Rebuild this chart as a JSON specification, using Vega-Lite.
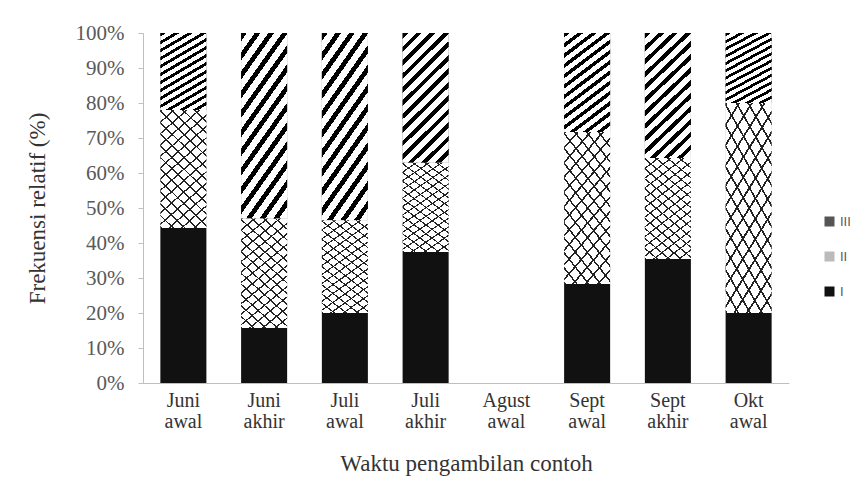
{
  "$schema": "https://vega.github.io/schema/vega-lite/v6.json",
  "width": 646,
  "height": 350,
  "autosize": "none",
  "padding": {"left": 143, "top": 33, "right": 76, "bottom": 113},
  "background": "white",
  "config": {"view": {"stroke": null}, "font": "Liberation Serif"},
  "data": {
    "values": [
      {"waktu": "Juni awal", "kelas": "I", "persen": 44.3},
      {"waktu": "Juni awal", "kelas": "II", "persen": 33.7},
      {"waktu": "Juni awal", "kelas": "III", "persen": 22.0},
      {"waktu": "Juni akhir", "kelas": "I", "persen": 15.7},
      {"waktu": "Juni akhir", "kelas": "II", "persen": 31.3},
      {"waktu": "Juni akhir", "kelas": "III", "persen": 53.0},
      {"waktu": "Juli awal", "kelas": "I", "persen": 20.0},
      {"waktu": "Juli awal", "kelas": "II", "persen": 26.5},
      {"waktu": "Juli awal", "kelas": "III", "persen": 53.5},
      {"waktu": "Juli akhir", "kelas": "I", "persen": 37.4},
      {"waktu": "Juli akhir", "kelas": "II", "persen": 25.5},
      {"waktu": "Juli akhir", "kelas": "III", "persen": 37.1},
      {"waktu": "Sept awal", "kelas": "I", "persen": 28.3},
      {"waktu": "Sept awal", "kelas": "II", "persen": 43.4},
      {"waktu": "Sept awal", "kelas": "III", "persen": 28.3},
      {"waktu": "Sept akhir", "kelas": "I", "persen": 35.4},
      {"waktu": "Sept akhir", "kelas": "II", "persen": 28.9},
      {"waktu": "Sept akhir", "kelas": "III", "persen": 35.7},
      {"waktu": "Okt awal", "kelas": "I", "persen": 20.0},
      {"waktu": "Okt awal", "kelas": "II", "persen": 60.0},
      {"waktu": "Okt awal", "kelas": "III", "persen": 20.0}
    ]
  },
  "transform": [
    {"stack": "persen", "groupby": ["waktu"], "sort": [{"field": "kelas", "order": "ascending"}], "as": ["y0", "y1"], "offset": "normalize"}
  ],
  "encoding": {
    "x": {
      "field": "waktu",
      "type": "nominal",
      "sort": null,
      "title": "Waktu pengambilan contoh",
      "scale": {
        "domain": ["Juni awal", "Juni akhir", "Juli awal", "Juli akhir", "Agust awal", "Sept awal", "Sept akhir", "Okt awal"],
        "paddingInner": 0.43,
        "paddingOuter": 0.215
      },
      "axis": {
        "labelExpr": "split(datum.label, ' ')",
        "labelAngle": 0,
        "ticks": false,
        "domainColor": "#bfbfbf",
        "labelFont": "Liberation Serif",
        "labelFontSize": 20,
        "labelColor": "#333333",
        "labelPadding": 7,
        "labelLineHeight": 21,
        "titleFont": "Liberation Serif",
        "titleFontSize": 23,
        "titleFontWeight": "normal",
        "titleColor": "#333333",
        "titlePadding": 21
      }
    },
    "y": {
      "field": "y0",
      "type": "quantitative",
      "title": "Frekuensi relatif (%)",
      "scale": {"domain": [0, 1], "nice": false},
      "axis": {
        "format": ".0%",
        "values": [0, 0.1, 0.2, 0.3, 0.4, 0.5, 0.6, 0.7, 0.8, 0.9, 1],
        "grid": false,
        "domainColor": "#bfbfbf",
        "tickColor": "#bfbfbf",
        "tickSize": 5,
        "labelFont": "Liberation Serif",
        "labelFontSize": 21,
        "labelColor": "#595959",
        "labelPadding": 14,
        "titleFont": "Liberation Serif",
        "titleFontSize": 23,
        "titleFontWeight": "normal",
        "titleColor": "#333333",
        "titlePadding": 26
      }
    },
    "y2": {"field": "y1"}
  },
  "layer": [
    {
      "mark": {"type": "bar", "strokeWidth": 0},
      "encoding": {
        "fill": {
          "field": "kelas",
          "type": "nominal",
          "scale": {"domain": ["III", "II", "I"], "range": ["#555555", "#bbbbbb", "#111111"]},
          "legend": {
            "orient": "none",
            "legendX": 680,
            "legendY": 182,
            "title": null,
            "symbolType": "square",
            "symbolSize": 100,
            "symbolStrokeWidth": 0,
            "labelFont": "Liberation Sans",
            "labelFontSize": 13,
            "labelColor": "#595959",
            "rowPadding": 21,
            "padding": 0
          }
        }
      }
    },
    {
      "transform": [{"filter": "datum.kelas === 'III'"}],
      "mark": {
        "type": "bar",
        "strokeWidth": 0,
        "fill": {"gradient": "linear", "x1": 0, "y1": 0, "x2": 0.42, "y2": 1.2, "stops": [
          {"offset": 0, "color": "#000000"}, {"offset": 0.0323, "color": "#000000"}, {"offset": 0.0323, "color": "#ffffff"}, {"offset": 0.0769, "color": "#ffffff"},
          {"offset": 0.0769, "color": "#000000"}, {"offset": 0.1092, "color": "#000000"}, {"offset": 0.1092, "color": "#ffffff"}, {"offset": 0.1538, "color": "#ffffff"},
          {"offset": 0.1538, "color": "#000000"}, {"offset": 0.1862, "color": "#000000"}, {"offset": 0.1862, "color": "#ffffff"}, {"offset": 0.2308, "color": "#ffffff"},
          {"offset": 0.2308, "color": "#000000"}, {"offset": 0.2631, "color": "#000000"}, {"offset": 0.2631, "color": "#ffffff"}, {"offset": 0.3077, "color": "#ffffff"},
          {"offset": 0.3077, "color": "#000000"}, {"offset": 0.34, "color": "#000000"}, {"offset": 0.34, "color": "#ffffff"}, {"offset": 0.3846, "color": "#ffffff"},
          {"offset": 0.3846, "color": "#000000"}, {"offset": 0.4169, "color": "#000000"}, {"offset": 0.4169, "color": "#ffffff"}, {"offset": 0.4615, "color": "#ffffff"},
          {"offset": 0.4615, "color": "#000000"}, {"offset": 0.4938, "color": "#000000"}, {"offset": 0.4938, "color": "#ffffff"}, {"offset": 0.5385, "color": "#ffffff"},
          {"offset": 0.5385, "color": "#000000"}, {"offset": 0.5708, "color": "#000000"}, {"offset": 0.5708, "color": "#ffffff"}, {"offset": 0.6154, "color": "#ffffff"},
          {"offset": 0.6154, "color": "#000000"}, {"offset": 0.6477, "color": "#000000"}, {"offset": 0.6477, "color": "#ffffff"}, {"offset": 0.6923, "color": "#ffffff"},
          {"offset": 0.6923, "color": "#000000"}, {"offset": 0.7246, "color": "#000000"}, {"offset": 0.7246, "color": "#ffffff"}, {"offset": 0.7692, "color": "#ffffff"},
          {"offset": 0.7692, "color": "#000000"}, {"offset": 0.8015, "color": "#000000"}, {"offset": 0.8015, "color": "#ffffff"}, {"offset": 0.8462, "color": "#ffffff"},
          {"offset": 0.8462, "color": "#000000"}, {"offset": 0.8785, "color": "#000000"}, {"offset": 0.8785, "color": "#ffffff"}, {"offset": 0.9231, "color": "#ffffff"},
          {"offset": 0.9231, "color": "#000000"}, {"offset": 0.9554, "color": "#000000"}, {"offset": 0.9554, "color": "#ffffff"}, {"offset": 1, "color": "#ffffff"}
        ]}
      }
    },
    {
      "transform": [{"filter": "datum.kelas === 'II'"}],
      "mark": {
        "type": "bar",
        "strokeWidth": 0,
        "fill": {"gradient": "linear", "x1": 0, "y1": 1, "x2": 0.46, "y2": -0.2, "stops": [
          {"offset": 0, "color": "#222222"}, {"offset": 0.0114, "color": "#222222"}, {"offset": 0.0114, "color": "#ffffff"}, {"offset": 0.0714, "color": "#ffffff"},
          {"offset": 0.0714, "color": "#222222"}, {"offset": 0.0828, "color": "#222222"}, {"offset": 0.0828, "color": "#ffffff"}, {"offset": 0.1429, "color": "#ffffff"},
          {"offset": 0.1429, "color": "#222222"}, {"offset": 0.1543, "color": "#222222"}, {"offset": 0.1543, "color": "#ffffff"}, {"offset": 0.2143, "color": "#ffffff"},
          {"offset": 0.2143, "color": "#222222"}, {"offset": 0.2257, "color": "#222222"}, {"offset": 0.2257, "color": "#ffffff"}, {"offset": 0.2857, "color": "#ffffff"},
          {"offset": 0.2857, "color": "#222222"}, {"offset": 0.2971, "color": "#222222"}, {"offset": 0.2971, "color": "#ffffff"}, {"offset": 0.3571, "color": "#ffffff"},
          {"offset": 0.3571, "color": "#222222"}, {"offset": 0.3685, "color": "#222222"}, {"offset": 0.3685, "color": "#ffffff"}, {"offset": 0.4286, "color": "#ffffff"},
          {"offset": 0.4286, "color": "#222222"}, {"offset": 0.44, "color": "#222222"}, {"offset": 0.44, "color": "#ffffff"}, {"offset": 0.5, "color": "#ffffff"},
          {"offset": 0.5, "color": "#222222"}, {"offset": 0.5114, "color": "#222222"}, {"offset": 0.5114, "color": "#ffffff"}, {"offset": 0.5714, "color": "#ffffff"},
          {"offset": 0.5714, "color": "#222222"}, {"offset": 0.5828, "color": "#222222"}, {"offset": 0.5828, "color": "#ffffff"}, {"offset": 0.6429, "color": "#ffffff"},
          {"offset": 0.6429, "color": "#222222"}, {"offset": 0.6543, "color": "#222222"}, {"offset": 0.6543, "color": "#ffffff"}, {"offset": 0.7143, "color": "#ffffff"},
          {"offset": 0.7143, "color": "#222222"}, {"offset": 0.7257, "color": "#222222"}, {"offset": 0.7257, "color": "#ffffff"}, {"offset": 0.7857, "color": "#ffffff"},
          {"offset": 0.7857, "color": "#222222"}, {"offset": 0.7971, "color": "#222222"}, {"offset": 0.7971, "color": "#ffffff"}, {"offset": 0.8571, "color": "#ffffff"},
          {"offset": 0.8571, "color": "#222222"}, {"offset": 0.8685, "color": "#222222"}, {"offset": 0.8685, "color": "#ffffff"}, {"offset": 0.9286, "color": "#ffffff"},
          {"offset": 0.9286, "color": "#222222"}, {"offset": 0.94, "color": "#222222"}, {"offset": 0.94, "color": "#ffffff"}, {"offset": 1, "color": "#ffffff"}
        ]}
      }
    },
    {
      "transform": [{"filter": "datum.kelas === 'II'"}],
      "mark": {
        "type": "bar",
        "strokeWidth": 0,
        "fill": {"gradient": "linear", "x1": 0, "y1": 0, "x2": 0.42, "y2": 1.2, "stops": [
          {"offset": 0, "color": "rgba(34,34,34,1)"}, {"offset": 0.0114, "color": "rgba(34,34,34,1)"}, {"offset": 0.0114, "color": "rgba(255,255,255,0)"}, {"offset": 0.0714, "color": "rgba(255,255,255,0)"},
          {"offset": 0.0714, "color": "rgba(34,34,34,1)"}, {"offset": 0.0828, "color": "rgba(34,34,34,1)"}, {"offset": 0.0828, "color": "rgba(255,255,255,0)"}, {"offset": 0.1429, "color": "rgba(255,255,255,0)"},
          {"offset": 0.1429, "color": "rgba(34,34,34,1)"}, {"offset": 0.1543, "color": "rgba(34,34,34,1)"}, {"offset": 0.1543, "color": "rgba(255,255,255,0)"}, {"offset": 0.2143, "color": "rgba(255,255,255,0)"},
          {"offset": 0.2143, "color": "rgba(34,34,34,1)"}, {"offset": 0.2257, "color": "rgba(34,34,34,1)"}, {"offset": 0.2257, "color": "rgba(255,255,255,0)"}, {"offset": 0.2857, "color": "rgba(255,255,255,0)"},
          {"offset": 0.2857, "color": "rgba(34,34,34,1)"}, {"offset": 0.2971, "color": "rgba(34,34,34,1)"}, {"offset": 0.2971, "color": "rgba(255,255,255,0)"}, {"offset": 0.3571, "color": "rgba(255,255,255,0)"},
          {"offset": 0.3571, "color": "rgba(34,34,34,1)"}, {"offset": 0.3685, "color": "rgba(34,34,34,1)"}, {"offset": 0.3685, "color": "rgba(255,255,255,0)"}, {"offset": 0.4286, "color": "rgba(255,255,255,0)"},
          {"offset": 0.4286, "color": "rgba(34,34,34,1)"}, {"offset": 0.44, "color": "rgba(34,34,34,1)"}, {"offset": 0.44, "color": "rgba(255,255,255,0)"}, {"offset": 0.5, "color": "rgba(255,255,255,0)"},
          {"offset": 0.5, "color": "rgba(34,34,34,1)"}, {"offset": 0.5114, "color": "rgba(34,34,34,1)"}, {"offset": 0.5114, "color": "rgba(255,255,255,0)"}, {"offset": 0.5714, "color": "rgba(255,255,255,0)"},
          {"offset": 0.5714, "color": "rgba(34,34,34,1)"}, {"offset": 0.5828, "color": "rgba(34,34,34,1)"}, {"offset": 0.5828, "color": "rgba(255,255,255,0)"}, {"offset": 0.6429, "color": "rgba(255,255,255,0)"},
          {"offset": 0.6429, "color": "rgba(34,34,34,1)"}, {"offset": 0.6543, "color": "rgba(34,34,34,1)"}, {"offset": 0.6543, "color": "rgba(255,255,255,0)"}, {"offset": 0.7143, "color": "rgba(255,255,255,0)"},
          {"offset": 0.7143, "color": "rgba(34,34,34,1)"}, {"offset": 0.7257, "color": "rgba(34,34,34,1)"}, {"offset": 0.7257, "color": "rgba(255,255,255,0)"}, {"offset": 0.7857, "color": "rgba(255,255,255,0)"},
          {"offset": 0.7857, "color": "rgba(34,34,34,1)"}, {"offset": 0.7971, "color": "rgba(34,34,34,1)"}, {"offset": 0.7971, "color": "rgba(255,255,255,0)"}, {"offset": 0.8571, "color": "rgba(255,255,255,0)"},
          {"offset": 0.8571, "color": "rgba(34,34,34,1)"}, {"offset": 0.8685, "color": "rgba(34,34,34,1)"}, {"offset": 0.8685, "color": "rgba(255,255,255,0)"}, {"offset": 0.9286, "color": "rgba(255,255,255,0)"},
          {"offset": 0.9286, "color": "rgba(34,34,34,1)"}, {"offset": 0.94, "color": "rgba(34,34,34,1)"}, {"offset": 0.94, "color": "rgba(255,255,255,0)"}, {"offset": 1, "color": "rgba(255,255,255,0)"}
        ]}
      }
    }
  ]
}
